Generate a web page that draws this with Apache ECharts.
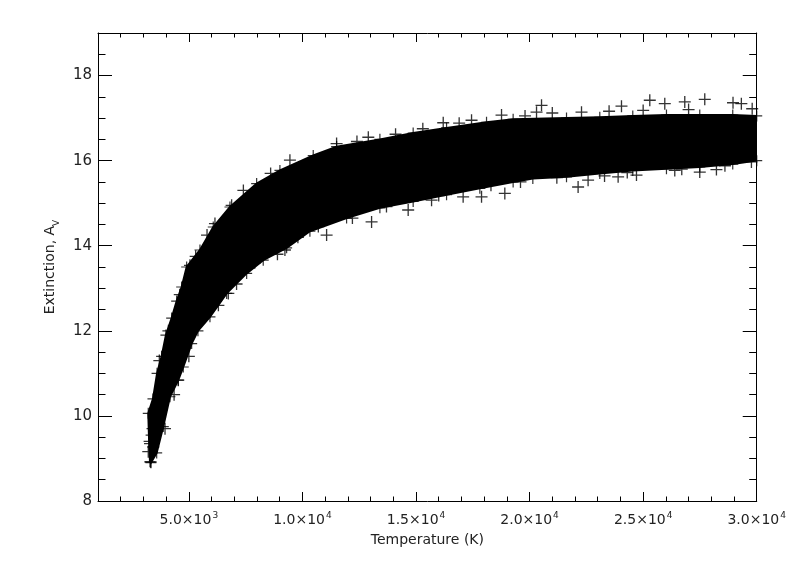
<!DOCTYPE html>
<html>
<head>
<meta charset="utf-8">
<script src="https://cdn.jsdelivr.net/npm/echarts@6/dist/echarts.min.js"></script>
<style>html,body{margin:0;padding:0;background:#fff}#c{width:789px;height:564px}</style>
</head>
<body>
<div id="c"></div>
<script>
// ---- data ----
// Dense core of the scatter cloud: upper (left/top) edge and lower (right/bottom) edge
const bandUpperT = [3288,3250,3213,3420,3600,3800,3990,4243,4463,4683,4903,5489,6074,6809,7984,9009,10475,11504,13410,14875,16345,18105,19276,21626,23091,24543,26026,27492,28944,30000];
const bandUpperA = [8.92,9.40,10.06,10.40,11.00,11.40,11.90,12.30,12.70,13.03,13.50,13.90,14.44,14.91,15.46,15.77,16.12,16.33,16.50,16.65,16.77,16.90,16.97,17.00,17.02,17.05,17.07,17.07,17.07,17.05];
const bandLowerT = [3330,3583,3874,4168,4534,4754,5123,5400,5929,6664,7544,8274,9304,10329,11944,13410,14875,16345,17810,19276,20143,21626,23091,24543,26026,27492,28944,30000];
const bandLowerA = [8.90,9.13,9.75,10.45,10.84,11.15,11.70,12.00,12.33,12.88,13.35,13.66,13.95,14.34,14.65,14.89,15.04,15.20,15.35,15.50,15.58,15.62,15.70,15.77,15.81,15.85,15.92,16.00];
// Isolated "+" points visible at the edge of the cloud
const outlierT = [3318,3213,3433,3290,3360,3400,4534,5049,6149,6883,6737,9229,9449,11504,16198,17445,18765,11064,13044,14655,15685,17075,17885,18910,20526,20306,22286,24046,25292,25952,26832,27712,28956,29323,22136,22576,23898,24706,26392,27492,28226,29767,
  3700,4100,4600,5300,5800,7400,8600,12400,12900,14100,15300,16900,19800,21000,23500,25000,27000,29800,
  3950,4350,5000,6300,7100,7900,8900,9800,10700,12200,13700,16000,18300,19600,21200,23300,24300,26700,28600];
const outlierA = [8.92,9.16,9.27,9.35,9.55,9.70,10.84,13.54,14.52,14.95,12.88,13.90,16.01,16.40,16.89,16.95,17.07,14.25,14.56,14.84,15.07,15.15,15.15,15.23,17.30,17.14,17.14,17.28,17.42,17.34,17.38,17.44,17.36,17.34,15.38,15.54,15.62,15.66,15.77,15.73,15.79,15.97,
  11.30,12.00,12.85,13.75,14.25,15.30,15.70,16.45,16.55,16.62,16.75,16.88,17.05,17.12,17.16,17.18,17.20,17.22,
  9.70,10.50,11.40,12.60,13.10,13.60,13.80,14.20,14.45,14.65,14.92,15.18,15.42,15.50,15.60,15.64,15.72,15.80,15.88];
// Axes
const xMin = 1000, xMax = 30000, xMinorStep = 1000;
const xMajor = [5000,10000,15000,20000,25000,30000];
const xMant = ['5.0','1.0','1.5','2.0','2.5','3.0'];
const xExp  = ['3','4','4','4','4','4'];
const yMin = 8, yMax = 19, yMinorStep = 0.5;
const yMajor = [8,10,12,14,16,18];

// ---- build ----
const polygon = [];
for (let i = 0; i < bandUpperT.length; i++) polygon.push([bandUpperT[i], bandUpperA[i]]);
for (let i = bandLowerT.length - 1; i >= 0; i--) polygon.push([bandLowerT[i], bandLowerA[i]]);
const outliers = outlierT.map((t, i) => [t, outlierA[i]]);
const edgeMarks = polygon.slice();

const FONT = 'DejaVu Sans';
const ink = '#000';
const textCol = '#222';
const plus = 'path://M4.45,0h1.1v4.45h4.45v1.1h-4.45v4.45h-1.1v-4.45h-4.45v-1.1h4.45z';

function xAxisDef(pos, major, labels) {
  return {
    type: 'value', min: xMin, max: xMax, position: pos,
    interval: major ? undefined : xMinorStep,
    axisLine: { show: !major, lineStyle: { color: ink, width: 1 } },
    axisTick: major ? { show: true, inside: true, length: 9, customValues: xMajor, lineStyle: { color: ink } }
                    : { show: true, inside: true, length: 4.5, lineStyle: { color: ink } },
    axisLabel: labels ? {
      show: true, customValues: xMajor, margin: 10,
      formatter: v => { const k = xMajor.indexOf(v); return '{m|' + xMant[k] + '×10}{e|' + xExp[k] + '}'; },
      rich: {
        m: { fontFamily: FONT, fontSize: 14, color: textCol, lineHeight: 16, verticalAlign: 'bottom' },
        e: { fontFamily: FONT, fontSize: 9, color: textCol, lineHeight: 16, verticalAlign: 'top', padding: [0, 0, 6, 1] }
      }
    } : { show: false },
    splitLine: { show: false },
    name: labels ? 'Temperature (K)' : '', nameLocation: 'middle', nameGap: 32,
    nameTextStyle: { fontFamily: FONT, fontSize: 14, color: textCol }
  };
}
function yAxisDef(pos, major, labels) {
  return {
    type: 'value', min: yMin, max: yMax, position: pos,
    interval: major ? undefined : yMinorStep,
    axisLine: { show: !major, lineStyle: { color: ink, width: 1 } },
    axisTick: major ? { show: true, inside: true, length: 14, customValues: yMajor, lineStyle: { color: ink } }
                    : { show: true, inside: true, length: 7.5, lineStyle: { color: ink } },
    axisLabel: labels ? { show: true, customValues: yMajor, margin: 6, fontFamily: FONT, fontSize: 15, color: textCol } : { show: false },
    splitLine: { show: false },
    name: labels ? '{t|Extinction, A}{s|V}' : '', nameLocation: 'middle', nameGap: 37, nameRotate: 90,
    nameTextStyle: {
      rich: {
        t: { fontFamily: FONT, fontSize: 14, color: textCol, lineHeight: 18, verticalAlign: 'top' },
        s: { fontFamily: FONT, fontSize: 9, color: textCol, lineHeight: 18, verticalAlign: 'bottom', padding: [4, 0, 0, 0] }
      }
    }
  };
}

const chart = echarts.init(document.getElementById('c'), null, { renderer: 'canvas' });
chart.setOption({
  animation: false,
  backgroundColor: '#fff',
  grid: { left: 98, right: 32, top: 33, bottom: 63, containLabel: false },
  xAxis: [xAxisDef('bottom', false, false), xAxisDef('bottom', true, true), xAxisDef('top', false, false), xAxisDef('top', true, false)],
  yAxis: [yAxisDef('left', false, false), yAxisDef('left', true, true), yAxisDef('right', false, false), yAxisDef('right', true, false)],
  series: [
    {
      type: 'custom', xAxisIndex: 0, yAxisIndex: 0, clip: true, silent: true,
      data: polygon,
      renderItem: function (params, api) {
        if (params.dataIndex !== 0) return null;
        const pts = polygon.map(p => api.coord(p));
        return { type: 'polygon', shape: { points: pts }, style: { fill: ink, stroke: ink, lineWidth: 2 } };
      }
    },
    {
      type: 'scatter', xAxisIndex: 0, yAxisIndex: 0, data: edgeMarks, clip: true,
      symbol: plus, symbolSize: 11, itemStyle: { color: ink }, silent: true
    },
    {
      type: 'scatter', xAxisIndex: 0, yAxisIndex: 0, data: outliers, clip: true,
      symbol: plus, symbolSize: 12, itemStyle: { color: ink }, silent: true
    }
  ]
});
</script>
</body>
</html>
